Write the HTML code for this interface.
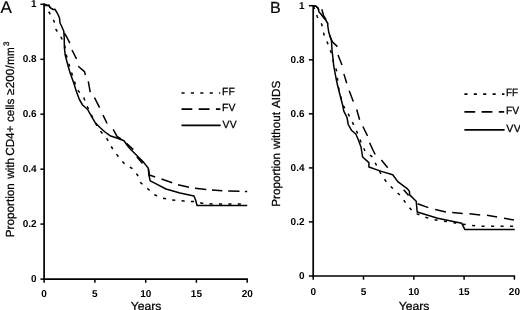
<!DOCTYPE html>
<html><head><meta charset="utf-8"><title>Figure</title>
<style>
html,body{margin:0;padding:0;background:#fff;}
body{width:520px;height:310px;overflow:hidden;}
svg{display:block;}
text{font-family:"Liberation Sans",Arial,sans-serif;fill:#000;stroke:#000;stroke-width:0.25px;text-rendering:geometricPrecision;}
.tk{font-size:10px;font-weight:bold;stroke:none;}
.lg{font-size:10.4px;}
.lg2{font-size:10.7px;}
.pl{stroke-width:0.15px;}
.ax{font-size:11.7px;}
.sup{font-size:8px;}
polyline,path.so{fill:none;stroke:#000;stroke-width:1.5;stroke-linejoin:round;}
line.so,line.do,line.lda{fill:none;stroke:#000;stroke-width:1.7;}
.lda{stroke-dasharray:10.8 6.4;}
.do{stroke-dasharray:3.1 6.3;}
.do2{stroke-dasharray:3 6.5;}
</style></head><body>
<svg width="520" height="310" viewBox="0 0 520 310">
<rect width="520" height="310" fill="#fff"/>
<path d="M44.1,3.6 V279.1 H247.9" fill="none" stroke="#000" stroke-width="1.7"/>
<line x1="40.4" x2="44.1" y1="279.1" y2="279.1" stroke="#000" stroke-width="1.5"/>
<text class="tk" x="36.6" y="282.1" text-anchor="end">0</text>
<line x1="40.4" x2="44.1" y1="224.1" y2="224.1" stroke="#000" stroke-width="1.5"/>
<text class="tk" x="36.6" y="227.1" text-anchor="end">0.2</text>
<line x1="40.4" x2="44.1" y1="169.2" y2="169.2" stroke="#000" stroke-width="1.5"/>
<text class="tk" x="36.6" y="172.2" text-anchor="end">0.4</text>
<line x1="40.4" x2="44.1" y1="114.2" y2="114.2" stroke="#000" stroke-width="1.5"/>
<text class="tk" x="36.6" y="117.2" text-anchor="end">0.6</text>
<line x1="40.4" x2="44.1" y1="59.3" y2="59.3" stroke="#000" stroke-width="1.5"/>
<text class="tk" x="36.6" y="62.3" text-anchor="end">0.8</text>
<line x1="40.4" x2="44.1" y1="4.3" y2="4.3" stroke="#000" stroke-width="1.5"/>
<text class="tk" x="36.6" y="6.7" text-anchor="end">1</text>
<line x1="44.1" x2="44.1" y1="279.1" y2="282.8" stroke="#000" stroke-width="1.5"/>
<text class="tk" x="44.1" y="296.6" text-anchor="middle">0</text>
<line x1="94.9" x2="94.9" y1="279.1" y2="282.8" stroke="#000" stroke-width="1.5"/>
<text class="tk" x="94.9" y="296.6" text-anchor="middle">5</text>
<line x1="145.7" x2="145.7" y1="279.1" y2="282.8" stroke="#000" stroke-width="1.5"/>
<text class="tk" x="145.7" y="296.6" text-anchor="middle">10</text>
<line x1="196.4" x2="196.4" y1="279.1" y2="282.8" stroke="#000" stroke-width="1.5"/>
<text class="tk" x="196.4" y="296.6" text-anchor="middle">15</text>
<line x1="247.2" x2="247.2" y1="279.1" y2="282.8" stroke="#000" stroke-width="1.5"/>
<text class="tk" x="247.2" y="296.6" text-anchor="middle">20</text>
<path d="M313.2,5.0 V276 H515.1" fill="none" stroke="#000" stroke-width="1.7"/>
<line x1="308.9" x2="313.2" y1="276.0" y2="276.0" stroke="#000" stroke-width="1.5"/>
<text class="tk" x="304.5" y="279.0" text-anchor="end">0</text>
<line x1="308.9" x2="313.2" y1="221.9" y2="221.9" stroke="#000" stroke-width="1.5"/>
<text class="tk" x="304.5" y="224.9" text-anchor="end">0.2</text>
<line x1="308.9" x2="313.2" y1="167.9" y2="167.9" stroke="#000" stroke-width="1.5"/>
<text class="tk" x="304.5" y="170.9" text-anchor="end">0.4</text>
<line x1="308.9" x2="313.2" y1="113.8" y2="113.8" stroke="#000" stroke-width="1.5"/>
<text class="tk" x="304.5" y="116.8" text-anchor="end">0.6</text>
<line x1="308.9" x2="313.2" y1="59.8" y2="59.8" stroke="#000" stroke-width="1.5"/>
<text class="tk" x="304.5" y="62.8" text-anchor="end">0.8</text>
<line x1="308.9" x2="313.2" y1="5.7" y2="5.7" stroke="#000" stroke-width="1.5"/>
<text class="tk" x="304.5" y="8.7" text-anchor="end">1</text>
<line x1="313.2" x2="313.2" y1="276" y2="279.7" stroke="#000" stroke-width="1.5"/>
<text class="tk" x="313.2" y="295.4" text-anchor="middle">0</text>
<line x1="363.5" x2="363.5" y1="276" y2="279.7" stroke="#000" stroke-width="1.5"/>
<text class="tk" x="363.5" y="295.4" text-anchor="middle">5</text>
<line x1="413.8" x2="413.8" y1="276" y2="279.7" stroke="#000" stroke-width="1.5"/>
<text class="tk" x="413.8" y="295.4" text-anchor="middle">10</text>
<line x1="464.1" x2="464.1" y1="276" y2="279.7" stroke="#000" stroke-width="1.5"/>
<text class="tk" x="464.1" y="295.4" text-anchor="middle">15</text>
<line x1="514.4" x2="514.4" y1="276" y2="279.7" stroke="#000" stroke-width="1.5"/>
<text class="tk" x="514.4" y="295.4" text-anchor="middle">20</text>
<polyline class="so" points="44.2,4.2 47.0,5.5 49.0,5.2 50.0,7.5 53.0,9.5 55.0,9.3 56.0,11.0 58.0,14.5 59.5,18.0 60.0,23.0 61.5,26.0 63.8,31.3 64.2,37.6 64.4,47.6 65.2,55.0 67.5,63.8 70.0,72.6 73.2,81.4 76.3,91.3 79.4,99.5 82.6,105.0 87.6,109.5 90.8,115.2 95.2,122.7 100.0,127.5 105.0,132.0 110.0,135.7 117.6,138.2 124.0,140.8 127.0,145.0 130.0,148.8 137.6,156.3 143.9,162.6 148.3,168.3 148.9,175.2 150.2,180.8 155.2,183.4 166.0,189.0 180.0,193.0 194.0,196.0 195.6,200.0 197.0,205.4 247.2,205.4"/>
<polyline class="do" stroke-dashoffset="0.8" points="44.2,4.3 49.5,13.0 54.0,21.0 56.0,29.5 60.7,36.6 64.5,44.0 66.3,55.0 68.8,63.8 72.0,74.0 77.0,89.2 83.8,97.8 87.5,107.0 91.5,115.2 96.0,124.0 100.6,131.3 107.0,138.9 112.3,148.3 118.2,156.5 125.0,164.5 132.0,168.3 137.6,175.2 140.7,182.7 148.0,189.0 155.0,195.0 162.0,198.0 172.0,200.0 184.0,201.0 194.0,201.6 202.0,203.2 212.0,203.9 247.2,204.1"/>
<path class="so" d="M44.2,4.2 L47.0,5.5 L49.0,5.2 L50.0,7.5 L53.0,9.5 M64.4,33.2 L67.0,37.5 L69.8,43.2 M72.0,50.0 L76.5,58.9 M78.2,66.3 L84.5,71.6 L85.4,75.0 M88.3,81.4 L90.2,92.1 M94.5,97.6 L99.6,107.6 M103.0,115.2 L107.1,123.5 M113.2,129.4 L117.0,136.4 L121.0,139.0 M126.5,143.3 L133.3,149.6 M136.8,156.8 L142.5,163.5 M148.5,169.0 L149.3,175.0 L155.2,177.0 M161.5,179.0 L172.2,182.7 M178.0,184.7 L189.0,187.2 M195.0,188.2 L206.3,189.5 M212.0,190.0 L222.3,190.7 M228.2,191.0 L239.5,191.3 M244.9,191.4 L247.2,191.4"/>
<polyline class="so" points="313.3,5.7 316.0,6.2 318.0,8.0 319.0,12.0 320.5,13.5 323.5,17.5 326.0,20.5 327.8,23.5 327.8,26.0 328.8,32.5 331.4,40.0 332.0,50.0 332.6,55.0 333.8,66.3 336.4,80.2 337.5,85.0 340.0,95.0 342.6,105.0 343.8,111.2 347.0,117.5 348.2,124.5 351.4,130.2 355.8,134.0 358.3,139.7 361.0,147.0 362.6,157.0 368.9,162.6 368.9,167.0 381.4,171.4 392.7,174.8 397.8,181.6 407.5,188.9 409.5,191.5 409.5,194.6 416.2,201.2 417.2,212.0 437.7,218.3 461.8,223.3 464.9,229.6 514.7,229.6"/>
<polyline class="do2" stroke-dashoffset="9.0" points="313.3,5.7 317.2,16.5 321.8,24.5 324.0,34.8 327.8,43.6 331.0,52.0 333.5,62.0 337.0,72.0 337.9,85.0 340.3,95.0 342.9,105.0 347.0,111.4 352.6,122.7 357.0,132.0 360.8,141.6 365.1,151.3 372.4,157.0 376.7,165.8 382.0,176.0 387.5,183.3 393.6,189.3 400.8,195.8 406.3,203.8 413.2,212.0 422.4,216.4 430.8,218.9 440.3,220.8 450.3,222.0 459.0,223.7 467.6,224.8 477.6,226.2 514.7,226.2"/>
<path class="so" d="M313.3,5.7 L316.0,6.2 L318.0,8.0 L319.0,10.0 M321.8,9.2 L323.7,16.0 L326.2,19.6 M329.5,35.0 L331.4,40.0 L332.6,42.0 L337.4,46.6 M338.0,55.0 L342.0,65.0 M343.9,73.9 L346.7,83.3 M349.2,90.7 L353.3,101.4 M356.7,109.5 L359.6,119.8 M362.9,126.5 L367.5,135.9 M369.6,142.8 L373.4,151.0 L375.2,154.5 M381.4,160.1 L387.7,167.7 M403.7,189.7 L408.6,195.4 M417.6,203.8 L428.3,207.6 M435.2,209.5 L445.9,212.0 M452.2,212.6 L462.7,213.4 M469.5,213.8 L480.2,215.1 M487.0,215.3 L497.1,217.0 M504.0,218.2 L513.9,220.1"/>
<line class="do" x1="181.5" x2="220.3" y1="93" y2="93"/>
<line class="lda" x1="181.5" x2="220.3" y1="109.2" y2="109.2"/>
<line class="so" x1="181.5" x2="220.6" y1="125.4" y2="125.4"/>
<text class="lg" x="222.1" y="95.2">FF</text>
<text class="lg" x="222.1" y="111.4">FV</text>
<text class="lg" x="222.4" y="127.6" letter-spacing="0.5">VV</text>
<line class="do" x1="464.4" x2="504.4" y1="94.1" y2="94.1"/>
<line class="lda" x1="464.4" x2="504.2" y1="111.9" y2="111.9"/>
<line class="so" x1="464.4" x2="504.6" y1="129.8" y2="129.8"/>
<text class="lg lg2" x="506.0" y="96.2" textLength="12.2" lengthAdjust="spacingAndGlyphs">FF</text>
<text class="lg lg2" x="506.0" y="114.1" textLength="13.2" lengthAdjust="spacingAndGlyphs">FV</text>
<text class="lg lg2" x="506.2" y="132.1" letter-spacing="0.5">VV</text>
<text class="pl" x="0.5" y="12.5" font-size="17">A</text>
<text class="pl" x="270.1" y="12.5" font-size="16.1">B</text>
<text class="ax" x="146.0" y="309.7" text-anchor="middle" textLength="30.7" lengthAdjust="spacingAndGlyphs">Years</text>
<text class="ax" x="414.0" y="309.7" text-anchor="middle" textLength="30.7" lengthAdjust="spacingAndGlyphs">Years</text>
<text class="ax" transform="translate(13.5,237.2) rotate(-90)">Proportion</text>
<text class="ax" transform="translate(13.5,178.8) rotate(-90)">with</text>
<text class="ax" transform="translate(13.5,155.8) rotate(-90)">CD4+</text>
<text class="ax" transform="translate(13.5,122.1) rotate(-90)">cells</text>
<text class="ax" transform="translate(13.5,94.9) rotate(-90)">≥</text>
<text class="ax" transform="translate(13.5,88.2) rotate(-90)">200</text>
<text class="ax" transform="translate(13.5,68.4) rotate(-90)">/</text>
<text class="ax" transform="translate(13.5,64.8) rotate(-90)" textLength="17.4" lengthAdjust="spacingAndGlyphs">mm</text>
<text class="sup" transform="translate(9.2,45.9) rotate(-90)">3</text>
<text class="ax" transform="translate(280,206.8) rotate(-90)">Proportion</text>
<text class="ax" transform="translate(280,149.0) rotate(-90)">without</text>
<text class="ax" transform="translate(280,108.0) rotate(-90)">AIDS</text>
</svg>
</body></html>
